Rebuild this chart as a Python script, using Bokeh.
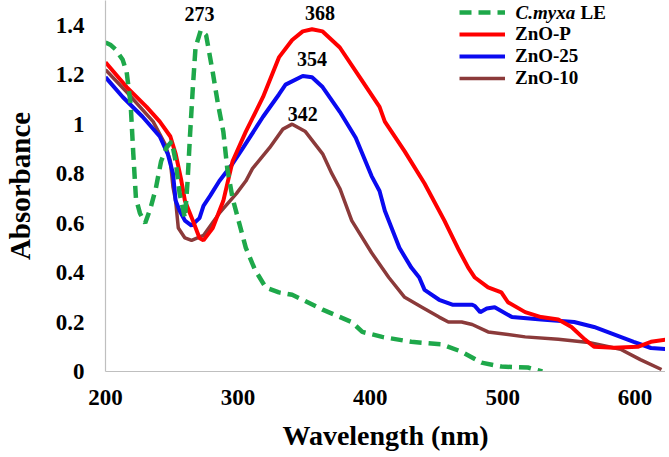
from bokeh.plotting import figure
from bokeh.models import Range1d, FixedTicker, Legend, LegendItem, Label, ColumnDataSource
from bokeh.core.properties import value
from bokeh.embed import file_html
from bokeh.resources import INLINE

# ---- data ----
cmyxa_x = [200, 204, 208, 213, 216, 219, 221, 223, 226, 230, 234, 238, 242, 246, 250, 253, 256, 260, 262, 264,
           266, 268, 272, 276, 281, 285, 289, 292, 296, 299, 306, 313, 321, 331, 341, 349, 364, 386, 394, 409,
           431, 454, 469, 484, 499, 519, 530]
cmyxa_y = [1.33, 1.32, 1.30, 1.26, 1.21, 1.08, 0.88, 0.70, 0.64, 0.60, 0.66, 0.74, 0.85, 0.905, 0.93, 0.85, 0.72, 0.62, 0.77, 0.97,
           1.15, 1.31, 1.38, 1.36, 1.21, 1.08, 0.97, 0.82, 0.70, 0.64, 0.50, 0.41, 0.34, 0.32, 0.31, 0.29, 0.25, 0.20, 0.16, 0.14,
           0.12, 0.11, 0.08, 0.036, 0.02, 0.016, 0.0]

znop_x = [200, 216, 231, 241, 249, 253, 257, 260, 263, 266, 271, 274, 281, 289, 296, 306, 319, 331, 341, 349,
          356, 364, 377, 392, 407, 411, 426, 441, 456, 467, 474, 479, 489, 499, 504, 517, 529, 542, 552, 562,
          569, 584, 602, 612, 625]
znop_y = [1.25, 1.15, 1.07, 1.01, 0.95, 0.88, 0.78, 0.69, 0.65, 0.61, 0.54, 0.53, 0.58, 0.69, 0.85, 0.97, 1.11, 1.27, 1.34, 1.375,
          1.384, 1.375, 1.31, 1.19, 1.07, 1.01, 0.89, 0.76, 0.61, 0.49, 0.42, 0.38, 0.34, 0.32, 0.28, 0.24, 0.22, 0.21, 0.18, 0.13,
          0.10, 0.096, 0.10, 0.12, 0.13]

zno25_x = [200, 213, 228, 241, 247, 251, 253, 256, 260, 265, 271, 274, 279, 286, 296, 304, 319, 331, 336, 349,
           356, 364, 377, 389, 401, 407, 411, 422, 431, 437, 441, 452, 462, 477, 479, 483, 488, 494, 507, 529,
           554, 569, 584, 599, 612, 625]
zno25_y = [1.19, 1.11, 1.03, 0.95, 0.88, 0.80, 0.69, 0.65, 0.61, 0.59, 0.62, 0.67, 0.71, 0.77, 0.84, 0.905, 1.03, 1.12, 1.16, 1.195,
           1.19, 1.15, 1.05, 0.945, 0.79, 0.73, 0.65, 0.50, 0.42, 0.38, 0.33, 0.29, 0.27, 0.27, 0.265, 0.24, 0.255, 0.26, 0.22, 0.21,
           0.20, 0.18, 0.15, 0.12, 0.095, 0.09]

zno10_x = [200, 216, 236, 245, 249, 251, 253, 255, 260, 265, 274, 286, 299, 306, 311, 324, 334, 341, 351, 364,
           371, 377, 386, 401, 414, 426, 439, 452, 459, 469, 477, 489, 517, 542, 565, 589, 604, 620]
zno10_y = [1.22, 1.13, 1.01, 0.92, 0.85, 0.745, 0.69, 0.58, 0.54, 0.53, 0.55, 0.64, 0.72, 0.77, 0.82, 0.905, 0.98, 1.00, 0.97, 0.88,
           0.80, 0.74, 0.61, 0.48, 0.38, 0.30, 0.26, 0.22, 0.20, 0.20, 0.19, 0.16, 0.14, 0.13, 0.117, 0.09, 0.048, 0.008]

peak_labels = ["273", "368", "354", "342"]
peak_label_x = [271, 362, 356, 349]
peak_label_y = [1.444, 1.448, 1.263, 1.04]

x_ticks = [200, 300, 400, 500, 600]
y_ticks = [0, 0.2, 0.4, 0.6, 0.8, 1.0, 1.2, 1.4]
y_tick_labels = ["0", "0.2", "0.4", "0.6", "0.8", "1", "1.2", "1.4"]

FONT = "Liberation Serif"

p = figure(width=665, height=453, output_backend="svg", toolbar_location=None,
           x_range=Range1d(200, 623), y_range=Range1d(0, 1.5),
           min_border_left=103, min_border_right=0, min_border_top=0, min_border_bottom=81)
p.outline_line_color = None
p.xgrid.visible = False
p.ygrid.visible = False
p.background_fill_color = "white"

for ax in (p.xaxis[0], p.yaxis[0]):
    ax.axis_line_color = "#bfbfbf"
    ax.axis_line_width = 1.2
    ax.major_tick_line_color = None
    ax.minor_tick_line_color = None
    ax.major_tick_out = 0
    ax.major_tick_in = 0
    ax.minor_tick_out = 0
    ax.major_label_text_font = FONT
    ax.major_label_text_font_style = "bold"
    ax.major_label_text_font_size = "23px"
    ax.major_label_text_color = "black"
    ax.axis_label_text_font = FONT
    ax.axis_label_text_font_style = "bold"
    ax.axis_label_text_font_size = "28px"
    ax.axis_label_text_color = "black"

p.xaxis.ticker = FixedTicker(ticks=x_ticks)
p.yaxis.ticker = FixedTicker(ticks=y_ticks)
p.yaxis.major_label_overrides = {t: l for t, l in zip(y_ticks, y_tick_labels)}
p.xaxis.axis_label = "Wavelength (nm)"
p.yaxis.axis_label = "Absorbance"
p.yaxis.axis_label_text_font_size = "29px"
p.xaxis.major_label_standoff = 18
p.xaxis.axis_label_standoff = 12
p.yaxis.major_label_standoff = 21
p.yaxis.axis_label_standoff = 17

r_brown = p.line(zno10_x, zno10_y, line_color="#8b3a3a", line_width=3.5)
r_blue = p.line(zno25_x, zno25_y, line_color="#0a0af0", line_width=4)
r_red = p.line(znop_x, znop_y, line_color="#ff0000", line_width=4)
r_green = p.line(cmyxa_x, cmyxa_y, line_color="#1ea84a", line_width=4.5, line_dash="12 7")

src = ColumnDataSource(dict(x=peak_label_x, y=peak_label_y, t=peak_labels))
p.text(x="x", y="y", text="t", source=src, text_font=value(FONT), text_font_style="bold",
       text_font_size="20px", text_align="center", text_baseline="middle", text_color="black")

legend = Legend(items=[LegendItem(label=" ", renderers=[r_green]),
                       LegendItem(label="ZnO-P", renderers=[r_red]),
                       LegendItem(label="ZnO-25", renderers=[r_blue]),
                       LegendItem(label="ZnO-10", renderers=[r_brown])],
                location=(354, 282))
legend.glyph_width = 46
legend.glyph_height = 22
legend.label_height = 22
legend.spacing = 0
legend.padding = 0
legend.margin = 0
legend.label_standoff = 10
legend.border_line_color = None
legend.background_fill_alpha = 0
legend.label_text_font = FONT
legend.label_text_font_style = "bold"
legend.label_text_font_size = "19px"
legend.label_text_color = "black"
p.add_layout(legend, "center")

p.add_layout(Label(x=410, y=359, x_units="screen", y_units="screen", text="C.myxa",
                   text_font=FONT, text_font_style="bold italic", text_font_size="19px",
                   text_baseline="middle", text_color="black"))
p.add_layout(Label(x=475, y=359, x_units="screen", y_units="screen", text="LE",
                   text_font=FONT, text_font_style="bold", text_font_size="19px",
                   text_baseline="middle", text_color="black"))

open("out.html", "w").write(file_html(p, INLINE))
